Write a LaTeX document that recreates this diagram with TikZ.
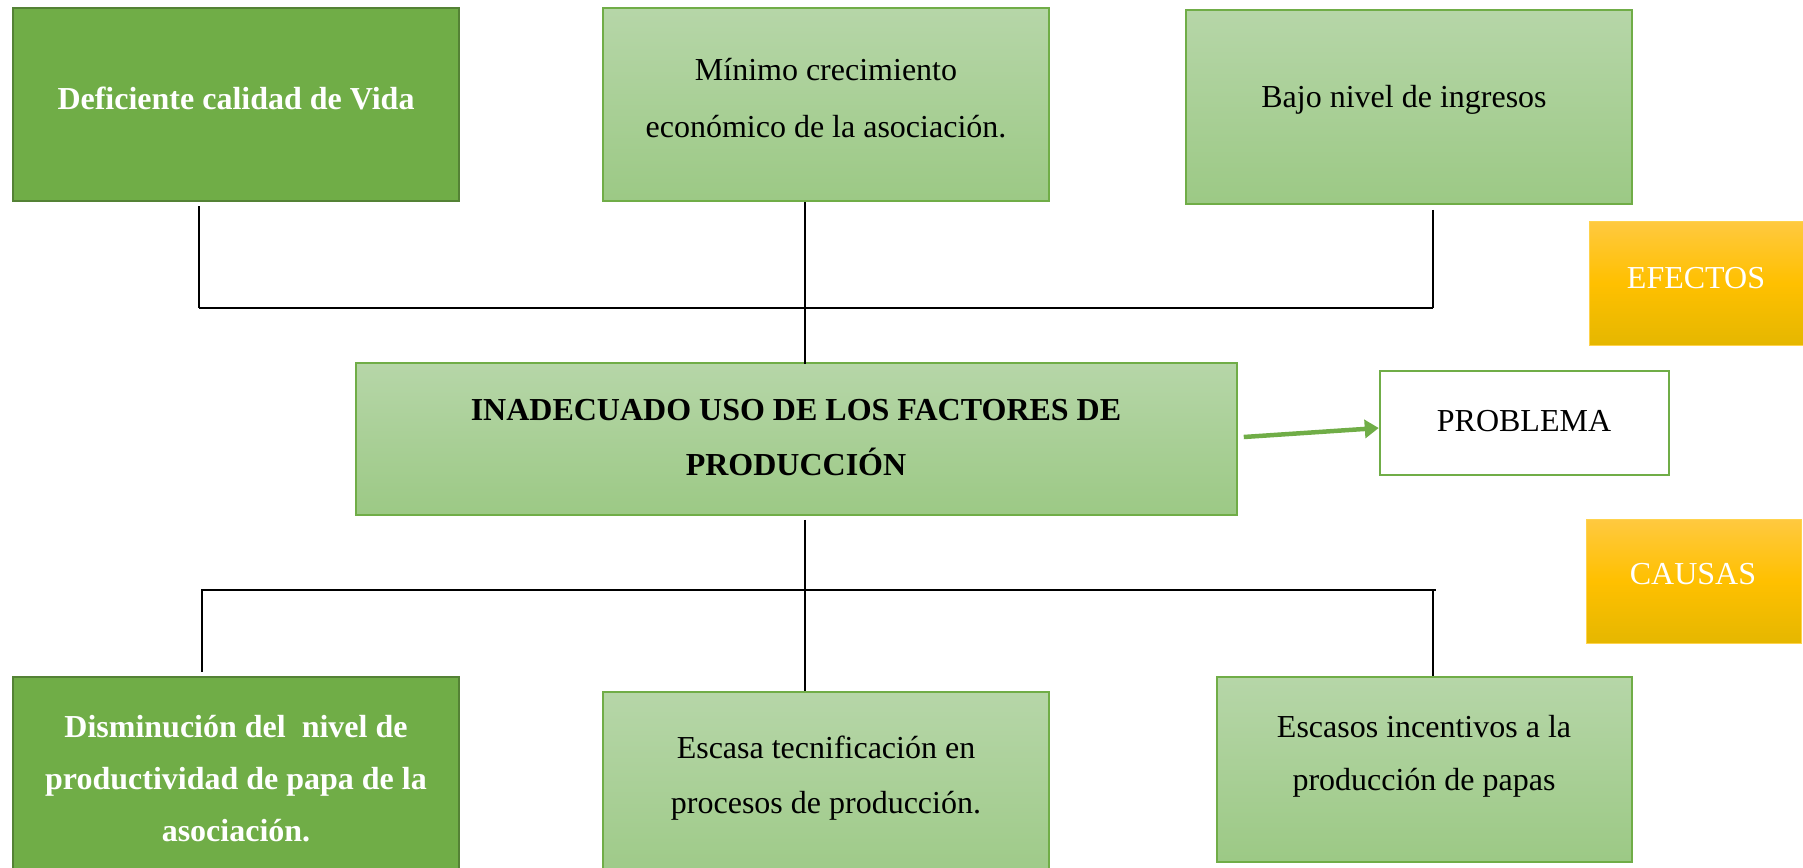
\documentclass[tikz,border=0pt]{standalone}
\usepackage{fontspec}
\setmainfont{Liberation Serif}
\usetikzlibrary{arrows.meta}
\definecolor{dkgreen}{HTML}{70AD47}
\definecolor{dkborder}{HTML}{548235}
\definecolor{ltop}{HTML}{B6D6A8}
\definecolor{lbot}{HTML}{9CC985}
\definecolor{otop}{HTML}{FFC940}
\definecolor{omid}{HTML}{FFC000}
\definecolor{obot}{HTML}{E5B700}
\begin{document}
\begin{tikzpicture}[x=1pt,y=-1pt,
  darkbox/.style={rectangle, inner sep=0pt, draw=dkborder, line width=2.5pt, fill=dkgreen},
  lightbox/.style={rectangle, inner sep=0pt, draw=dkgreen, line width=1.5pt, top color=ltop, bottom color=lbot},
  orangebox/.style={rectangle, inner sep=0pt, draw=omid!70!white, line width=1pt, top color=otop, bottom color=obot, middle color=omid},
  probbox/.style={rectangle, inner sep=0pt, draw=dkgreen, line width=2.5pt, fill=white},
  txt/.style={align=center, inner sep=0pt, font=\fontsize{32}{57.5}\selectfont},
  wtxt/.style={txt, text=white},
  conn/.style={line width=1.3pt, black},
  bar/.style={line width=1.8pt, black},
  greenarrow/.style={draw=dkgreen, line width=4.5pt, -{Triangle[length=14pt,width=18pt]}}
]
\useasboundingbox (0,0) rectangle (1803,867);
\clip (0,0) rectangle (1803,867);

% effects
\node[darkbox, minimum width=446pt, minimum height=193pt] (b1) at (236,104.5) {};
\node[lightbox, minimum width=446pt, minimum height=193pt] (b2) at (826,104.5) {};
\node[lightbox, minimum width=446pt, minimum height=194pt] (b3) at (1409,107) {};
\node[wtxt, font=\fontsize{32}{57.5}\selectfont\bfseries] (t1) at (236,98) {Deficiente calidad de Vida};
\node[txt] (t2) at (826,98) {Mínimo crecimiento\\económico de la asociación.};
\node[txt] (t3) at (1404,100) {Bajo nivel de ingresos};

% problem
\node[lightbox, minimum width=881pt, minimum height=152pt] (bc) at (796.5,439) {};
\node[txt, font=\fontsize{32}{55}\selectfont\bfseries] (tc) at (796,438) {INADECUADO USO DE LOS FACTORES DE\\PRODUCCIÓN};

% causes
\node[darkbox, minimum width=446pt, minimum height=220pt] (b4) at (236,787) {};
\node[lightbox, minimum width=446pt, minimum height=200pt] (b5) at (826,792) {};
\node[lightbox, minimum width=415pt, minimum height=185pt] (b6) at (1424.5,769.5) {};
\node[wtxt, font=\fontsize{32}{52}\selectfont\bfseries] (t4) at (236,779) {Disminución del ~nivel de\\productividad de papa de la\\asociación.};
\node[txt, font=\fontsize{32}{55}\selectfont] (t5) at (826,778) {Escasa tecnificación en\\procesos de producción.};
\node[txt, font=\fontsize{32}{53}\selectfont] (t6) at (1424,756) {Escasos incentivos a la\\producción de papas};

% side labels
\node[orangebox, minimum width=214pt, minimum height=124pt] (ef) at (1696,283) {};
\node[wtxt] (tef) at (1696,278) {EFECTOS};
\node[orangebox, minimum width=215pt, minimum height=124pt] (ca) at (1693.5,581) {};
\node[wtxt] (tca) at (1693,574) {CAUSAS};
\node[probbox, minimum width=289pt, minimum height=104pt] (pr) at (1524.5,423) {};
\node[txt] (tpr) at (1524,421) {PROBLEMA};

% junctions
\coordinate (j1) at (199,308);
\coordinate (j2) at (805,308);
\coordinate (j3) at (1433,308);
\coordinate (k1) at (202,590);
\coordinate (k2) at (805,590);
\coordinate (k3) at (1433,590);

% effect connectors
\draw[conn] ([yshift=-4pt]b1.south -| j1) -- (j1);
\draw[conn] (b2.south -| j2) -- ([yshift=-2pt]bc.north -| j2);
\draw[conn] ([yshift=-5pt]b3.south -| j3) -- (j3);
\draw[bar] (j1) -- (j3);

% cause connectors
\draw[conn] ([yshift=-4pt]bc.south -| k2) -- (b5.north -| k2);
\draw[bar] ([xshift=-1pt]k1) -- ([xshift=3pt]k3);
\draw[conn] (k1) -- ([yshift=4pt]b4.north -| k1);
\draw[conn] (k3) -- (b6.north -| k3);

% arrow
\draw[greenarrow] ([xshift=6pt,yshift=2pt]bc.east) -- ([yshift=-5pt]pr.west);
\end{tikzpicture}
\end{document}
